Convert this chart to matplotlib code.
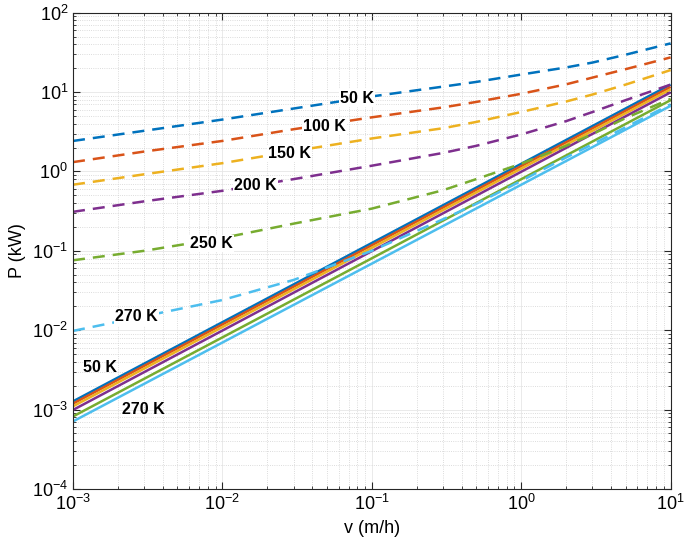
import matplotlib
matplotlib.use('Agg')
import matplotlib.pyplot as plt
from matplotlib.ticker import LogLocator, NullFormatter

plt.rcParams['font.family'] = ['Liberation Sans', 'DejaVu Sans']
plt.rcParams['mathtext.fontset'] = 'custom'
plt.rcParams['mathtext.rm'] = 'Liberation Sans'
plt.rcParams['mathtext.it'] = 'Liberation Sans:italic'

# speeds (m/h) where the curves were read
v = [1e-3, 3e-3, 1e-2, 3e-2, 1e-1, 3e-1, 5e-1, 1e0, 2e0, 3e0, 5e0, 1e1]

temps = ['50 K', '100 K', '150 K', '200 K', '250 K', '270 K']
colors = ['#0072BD', '#D95319', '#EDB120', '#7E2F8E', '#77AC30', '#4DBEEE']

# dashed curves, P (kW)
p50 = [2.42, 3.25, 4.5, 6.2, 8.8, 11.7, 13.4, 16.6, 20.4, 23.5, 29.5, 41.0]
p100 = [1.31, 1.78, 2.42, 3.4, 4.8, 6.4, 7.5, 9.5, 12.5, 15.2, 19.4, 27.3]
p150 = [0.68, 0.92, 1.27, 1.8, 2.6, 3.5, 4.2, 5.6, 7.6, 9.3, 12.4, 18.9]
p200 = [0.31, 0.42, 0.57, 0.8, 1.18, 1.71, 2.1, 2.92, 4.3, 5.6, 7.9, 12.4]
p250 = [0.076, 0.10, 0.145, 0.22, 0.34, 0.58, 0.8, 1.25, 2.1, 2.95, 4.7, 8.2]
p270 = [0.0098, 0.0150, 0.024, 0.043, 0.10, 0.25, 0.39, 0.76, 1.5, 2.2, 3.6, 7.0]
dashed = [p50, p100, p150, p200, p250, p270]

# solid lines: P at the two ends of the v range
v_ends = [1e-3, 1e1]
s_lo = [1.27e-3, 1.19e-3, 1.10e-3, 0.99e-3, 0.82e-3, 0.71e-3]
s_hi = [12.4, 11.6, 10.8, 9.9, 7.9, 6.7]

# label positions (v, P)
lab_dash_v = [0.08, 0.048, 0.028, 0.0166, 0.0085, 0.00264]
lab_dash_p = [8.4, 3.7, 1.68, 0.66, 0.124, 0.0147]
lab_solid = ['50 K', '270 K']
lab_solid_v = [0.00152, 0.00294]
lab_solid_p = [0.0034, 0.00099]

fig = plt.figure(figsize=(6.85, 5.49), dpi=100)
ax = fig.add_axes([0.1066, 0.1093, 0.8724, 0.8677])

for lo, hi, c in zip(s_lo, s_hi, colors):
    ax.plot(v_ends, [lo, hi], color=c, lw=1.8, solid_capstyle='butt')

for p, c in zip(dashed, colors):
    ax.plot(v, p, color=c, lw=1.8, dashes=(4.8, 3.2))

for t, x, y in zip(temps, lab_dash_v, lab_dash_p):
    ax.text(x, y, t, fontsize=11.5, fontweight='bold', ha='center', va='center',
            bbox=dict(facecolor='white', edgecolor='none', pad=0.8), zorder=5)
for t, x, y in zip(lab_solid, lab_solid_v, lab_solid_p):
    ax.text(x, y, t, fontsize=11.5, fontweight='bold', ha='center', va='center', zorder=5)

ax.set_xscale('log')
ax.set_yscale('log')
ax.set_xlim(1e-3, 1e1)
ax.set_ylim(1e-4, 1e2)

ax.xaxis.set_major_locator(LogLocator(base=10, numticks=10))
ax.yaxis.set_major_locator(LogLocator(base=10, numticks=10))
ax.xaxis.set_minor_locator(LogLocator(base=10, subs=range(2, 10), numticks=20))
ax.yaxis.set_minor_locator(LogLocator(base=10, subs=range(2, 10), numticks=20))
ax.xaxis.set_minor_formatter(NullFormatter())
ax.yaxis.set_minor_formatter(NullFormatter())

ax.grid(True, which='major', color='#e6e6e6', lw=0.6, ls='-')
ax.grid(True, which='minor', color='#d0d0d0', lw=0.6, ls=':')
ax.set_axisbelow(True)

ax.tick_params(which='both', direction='in', top=True, right=True, colors='#262626',
               labelcolor='black')
ax.tick_params(which='major', length=5, labelsize=13)
ax.tick_params(which='minor', length=2.5)
for s in ax.spines.values():
    s.set_color('#262626')
    s.set_linewidth(0.8)

ax.set_xlabel('v (m/h)', fontsize=13)
ax.set_ylabel('P (kW)', fontsize=13)

fig.savefig('out.png', dpi=100)
